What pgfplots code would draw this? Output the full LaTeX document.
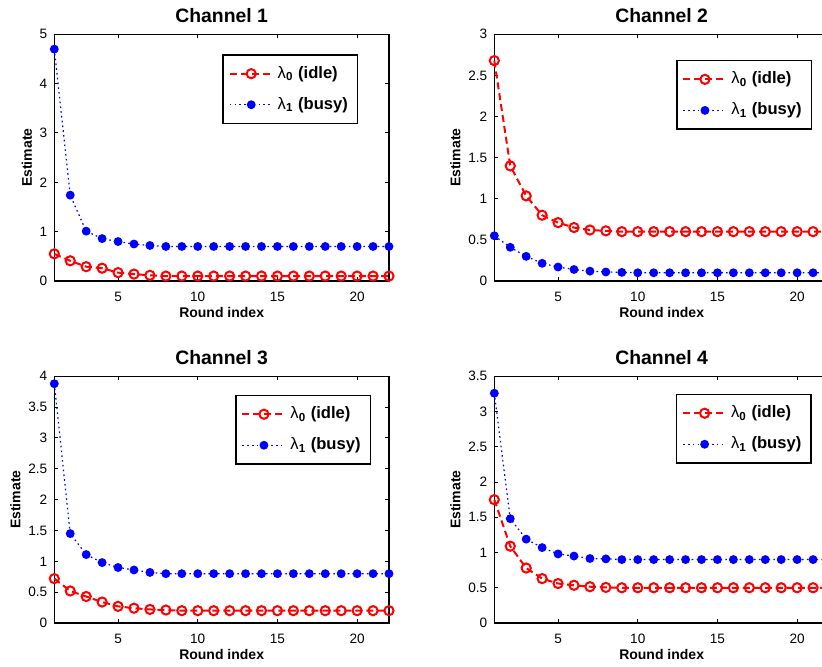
\documentclass[border=0pt]{standalone}
\usepackage{fontspec}
\setmainfont{Liberation Sans}
\usepackage{pgfplots}
\usepackage{pgfplotstable}
\pgfplotsset{compat=1.18}

% x  idle  busy
\pgfplotstableread{
x idle busy
1 0.55 4.70
2 0.41 1.74
3 0.29 1.01
4 0.26 0.86
5 0.17 0.80
6 0.14 0.75
7 0.115 0.72
8 0.10 0.70
9 0.10 0.70
10 0.10 0.70
11 0.10 0.70
12 0.10 0.70
13 0.10 0.70
14 0.10 0.70
15 0.10 0.70
16 0.10 0.70
17 0.10 0.70
18 0.10 0.70
19 0.10 0.70
20 0.10 0.70
21 0.10 0.70
22 0.10 0.70
}\chone

\pgfplotstableread{
x idle busy
1 2.68 0.55
2 1.40 0.41
3 1.035 0.30
4 0.80 0.215
5 0.71 0.17
6 0.65 0.14
7 0.62 0.12
8 0.61 0.11
9 0.60 0.105
10 0.60 0.10
11 0.60 0.10
12 0.60 0.10
13 0.60 0.10
14 0.60 0.10
15 0.60 0.10
16 0.60 0.10
17 0.60 0.10
18 0.60 0.10
19 0.60 0.10
20 0.60 0.10
21 0.60 0.10
22 0.60 0.10
}\chtwo

\pgfplotstableread{
x idle busy
1 0.72 3.88
2 0.52 1.45
3 0.43 1.11
4 0.34 0.98
5 0.27 0.90
6 0.24 0.86
7 0.22 0.82
8 0.21 0.80
9 0.20 0.80
10 0.20 0.80
11 0.20 0.80
12 0.20 0.80
13 0.20 0.80
14 0.20 0.80
15 0.20 0.80
16 0.20 0.80
17 0.20 0.80
18 0.20 0.80
19 0.20 0.80
20 0.20 0.80
21 0.20 0.80
22 0.20 0.80
}\chthree

\pgfplotstableread{
x idle busy
1 1.75 3.26
2 1.09 1.48
3 0.78 1.19
4 0.63 1.07
5 0.56 0.98
6 0.535 0.95
7 0.515 0.915
8 0.505 0.91
9 0.50 0.90
10 0.50 0.90
11 0.50 0.90
12 0.50 0.90
13 0.50 0.90
14 0.50 0.90
15 0.50 0.90
16 0.50 0.90
17 0.50 0.90
18 0.50 0.90
19 0.50 0.90
20 0.50 0.90
21 0.50 0.90
22 0.50 0.90
}\chfour

\pgfplotsset{
  chan/.style={
    scale only axis, width=167.35pt, height=123.35pt,
    xmin=1, xmax=22, xtick={5,10,15,20},
    clip=false,
    tick align=inside, major tick length=2pt,
    axis line style={line width=0.6pt},
    every tick/.style={black, line width=0.5pt},
    /pgf/number format/assume math mode=true,
    ticklabel style={font=\fontsize{6.8}{8}\selectfont},
    xticklabel shift=2pt,
    label style={font=\bfseries\fontsize{7}{8}\selectfont},
    xlabel={Round index}, ylabel={Estimate},
    xlabel shift=-4pt, ylabel shift=-3pt,
    every axis title/.style={at={(0.5,1)}, anchor=base, yshift=5.8pt,
      font=\bfseries\fontsize{9.7}{11}\selectfont},
    legend cell align=left,
    legend style={draw=black, line width=0.7pt, anchor=north east,
      font=\bfseries\fontsize{8.3}{10}\selectfont,
      inner xsep=2.8pt, inner ysep=3.6pt, row sep=4pt},
    legend image code/.code={%
      \draw[mark repeat=2, mark phase=2]
        plot coordinates {(0pt,0pt) (10.75pt,0pt) (21.5pt,0pt)};},
  },
  idle/.style={red, line width=1pt, dash pattern=on 3.5pt off 2pt,
    mark=o, mark size=2.3pt, mark options={solid}},
  busy/.style={blue, line width=0.6pt, dash pattern=on 0.8pt off 1.6pt,
    mark=*, mark size=1.9pt, mark options={solid}},
}

\begin{document}
\begin{tikzpicture}
\begin{axis}[chan, at={(27.15pt,192.5pt)}, anchor=south west,
    title={Channel 1}, ymin=0, ymax=5, ytick={0,1,...,5},
    legend style={at={(0.908,0.919)}}]
\addplot[idle] table[x=x, y=idle] {\chone};
\addlegendentry{{\mdseries λ}\textsubscript{0} (idle)}
\addplot[busy] table[x=x, y=busy] {\chone};
\addlegendentry{{\mdseries λ}\textsubscript{1} (busy)}
\end{axis}

\begin{axis}[chan, at={(247.15pt,192.5pt)}, anchor=south west,
    title={Channel 2}, ymin=0, ymax=3, ytick={0,0.5,...,3},
    legend style={at={(0.949,0.896)}}]
\addplot[idle] table[x=x, y=idle] {\chtwo};
\addlegendentry{{\mdseries λ}\textsubscript{0} (idle)}
\addplot[busy] table[x=x, y=busy] {\chtwo};
\addlegendentry{{\mdseries λ}\textsubscript{1} (busy)}
\end{axis}

\begin{axis}[chan, at={(27.15pt,21.5pt)}, anchor=south west,
    title={Channel 3}, ymin=0, ymax=4, ytick={0,0.5,...,4},
    legend style={at={(0.946,0.925)}}]
\addplot[idle] table[x=x, y=idle] {\chthree};
\addlegendentry{{\mdseries λ}\textsubscript{0} (idle)}
\addplot[busy] table[x=x, y=busy] {\chthree};
\addlegendentry{{\mdseries λ}\textsubscript{1} (busy)}
\end{axis}

\begin{axis}[chan, at={(247.15pt,21.5pt)}, anchor=south west,
    title={Channel 4}, ymin=0, ymax=3.5, ytick={0,0.5,...,3.5},
    legend style={at={(0.948,0.929)}}]
\addplot[idle] table[x=x, y=idle] {\chfour};
\addlegendentry{{\mdseries λ}\textsubscript{0} (idle)}
\addplot[busy] table[x=x, y=busy] {\chfour};
\addlegendentry{{\mdseries λ}\textsubscript{1} (busy)}
\end{axis}

\pgfresetboundingbox
\useasboundingbox (0,0) rectangle (411pt,333pt);
\end{tikzpicture}
\end{document}
